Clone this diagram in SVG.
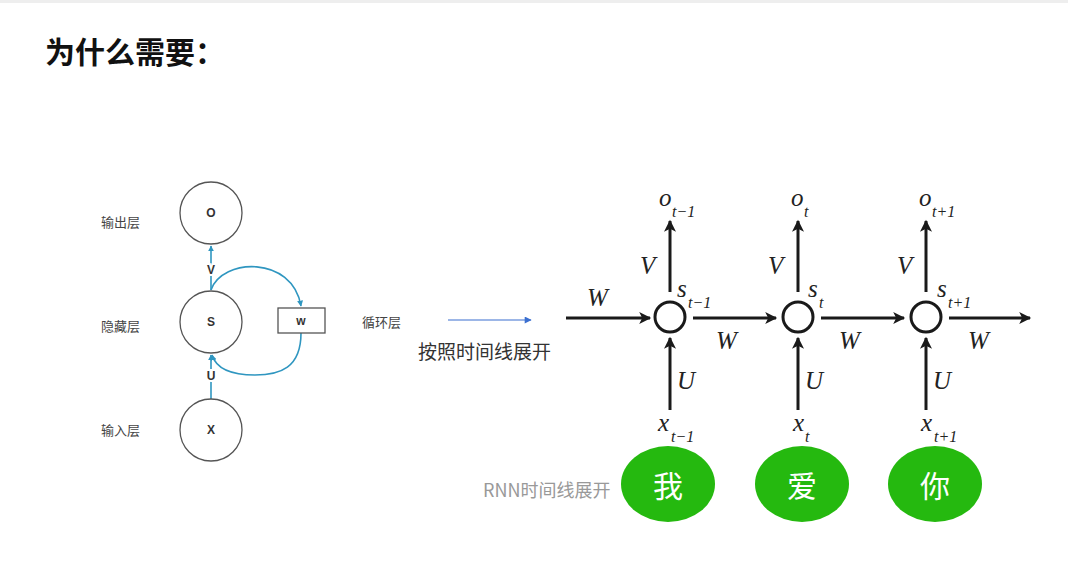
<svg xmlns="http://www.w3.org/2000/svg" width="1068" height="565" viewBox="0 0 1068 565">
<style>
.lbl{font-family:"Noto Sans CJK SC","Noto Sans",sans-serif;font-size:13px;fill:#444;}
.node{fill:#fff;stroke:#555;stroke-width:1.3;}
.nt{font-family:"Liberation Sans","Noto Sans",sans-serif;font-size:12px;font-weight:bold;fill:#333;text-anchor:middle;dominant-baseline:central;}
.blue{stroke:#2f96c0;stroke-width:1.6;fill:none;}
.ba{stroke:#1a1a1a;stroke-width:3;fill:none;}
.cell{fill:#fff;stroke:#1a1a1a;stroke-width:3;}
.m{font-family:"Liberation Serif","DejaVu Serif",serif;font-style:italic;font-size:25px;fill:#222;}
.sub{font-family:"Liberation Serif","DejaVu Serif",serif;font-style:italic;font-size:16px;fill:#222;}
.halo{paint-order:stroke;stroke:#fff;stroke-width:4;}
.word{fill:#25b90f;}
.wt{font-family:"Noto Sans CJK SC",sans-serif;font-size:30px;fill:#fff;text-anchor:middle;dominant-baseline:central;}
</style>
<defs>
<marker id="bh" viewBox="0 0 10 10" refX="9" refY="5" markerWidth="6" markerHeight="6" orient="auto" markerUnits="userSpaceOnUse"><path d="M0,0 L10,5 L0,10 z" fill="#2f96c0"/></marker>
<marker id="kh" viewBox="0 0 10 10" refX="9" refY="5" markerWidth="14" markerHeight="12" orient="auto" markerUnits="userSpaceOnUse"><path d="M0,0 L10,5 L0,10 L2.5,5 z" fill="#1a1a1a"/></marker>
<marker id="bb" viewBox="0 0 10 10" refX="9" refY="5" markerWidth="8" markerHeight="7" orient="auto" markerUnits="userSpaceOnUse"><path d="M0,0 L10,5 L0,10 z" fill="#3b6fd0"/></marker>
</defs>
<rect width="1068" height="565" fill="#fff"/>
<rect width="1068" height="3" fill="#eeeeee"/>
<text x="45" y="63" font-family="Noto Sans CJK SC,sans-serif" font-size="30" font-weight="bold" fill="#111">为什么需要：</text>

<g id="connectors">
<line class="blue" x1="211" y1="290" x2="211" y2="246" marker-end="url(#bh)"/>
<line class="blue" x1="211" y1="399" x2="211" y2="355" marker-end="url(#bh)"/>
<path class="blue" d="M211,290 C222,258 292,255 301,306" marker-end="url(#bh)"/>
<path class="blue" d="M301,333 C301,368 280,375 255,375 C230,375 216,368 212,355" marker-end="url(#bh)"/>
<line x1="448" y1="320" x2="531" y2="320" stroke="#3b6fd0" stroke-width="1.2" marker-end="url(#bb)"/>
<line class="ba" x1="566" y1="318" x2="650" y2="318" marker-end="url(#kh)"/>
<line class="ba" x1="693" y1="318" x2="776" y2="318" marker-end="url(#kh)"/>
<line class="ba" x1="821" y1="318" x2="904" y2="318" marker-end="url(#kh)"/>
<line class="ba" x1="949" y1="318" x2="1030" y2="318" marker-end="url(#kh)"/>
<line class="ba" x1="670" y1="292" x2="670" y2="221" marker-end="url(#kh)"/>
<line class="ba" x1="798" y1="292" x2="798" y2="221" marker-end="url(#kh)"/>
<line class="ba" x1="926" y1="292" x2="926" y2="221" marker-end="url(#kh)"/>
<line class="ba" x1="670" y1="410" x2="670" y2="338" marker-end="url(#kh)"/>
<line class="ba" x1="798" y1="410" x2="798" y2="338" marker-end="url(#kh)"/>
<line class="ba" x1="926" y1="410" x2="926" y2="338" marker-end="url(#kh)"/>
</g>

<g id="left-labels">
<text class="lbl" x="101" y="227">输出层</text>
<text class="lbl" x="101" y="331">隐藏层</text>
<text class="lbl" x="101" y="435">输入层</text>
<text class="lbl" x="362" y="327">循环层</text>
<text class="nt halo" x="211" y="270">V</text>
<text class="nt halo" x="211" y="376">U</text>
</g>
<g id="node-o"><circle class="node" cx="211" cy="213" r="31"/><text class="nt" x="211" y="213">O</text></g>
<g id="node-s"><circle class="node" cx="211" cy="322" r="31"/><text class="nt" x="211" y="322">S</text></g>
<g id="node-x"><circle class="node" cx="211" cy="430" r="31"/><text class="nt" x="211" y="430">X</text></g>
<g id="node-w"><rect class="node" x="278" y="308" width="47" height="25"/><text class="nt" x="301" y="321">w</text></g>

<text x="418" y="359" font-family="Noto Sans CJK SC,sans-serif" font-size="19" fill="#333">按照时间线展开</text>

<g id="rnn-labels">
<text class="m" x="587" y="306">W</text>
<text class="m" x="716" y="349">W</text>
<text class="m" x="839" y="349">W</text>
<text class="m" x="968" y="349">W</text>
<text class="m" x="640" y="274">V</text>
<text class="m" x="768" y="274">V</text>
<text class="m" x="897" y="274">V</text>
<text class="m" x="677" y="389">U</text>
<text class="m" x="805" y="389">U</text>
<text class="m" x="933" y="389">U</text>
<text class="m" x="659" y="206">o</text><text class="sub" x="672" y="217">t−1</text>
<text class="m" x="791" y="206">o</text><text class="sub" x="804" y="217">t</text>
<text class="m" x="919" y="206">o</text><text class="sub" x="932" y="217">t+1</text>
<text class="m" x="677" y="297">s</text><text class="sub" x="688" y="308">t−1</text>
<text class="m" x="808" y="297">s</text><text class="sub" x="819" y="308">t</text>
<text class="m" x="937" y="297">s</text><text class="sub" x="948" y="308">t+1</text>
<text class="m" x="658" y="431">x</text><text class="sub" x="671" y="442">t−1</text>
<text class="m" x="793" y="431">x</text><text class="sub" x="805" y="442">t</text>
<text class="m" x="921" y="431">x</text><text class="sub" x="934" y="442">t+1</text>
</g>
<g id="cell-1"><circle class="cell" cx="670" cy="317" r="15"/></g>
<g id="cell-2"><circle class="cell" cx="798" cy="317" r="15"/></g>
<g id="cell-3"><circle class="cell" cx="926" cy="317" r="15"/></g>

<text x="483" y="497" font-family="Noto Sans CJK SC,Noto Sans,sans-serif" font-size="18" fill="#999">RNN时间线展开</text>
<g id="word-1"><ellipse class="word" cx="668" cy="484" rx="47" ry="38"/><text class="wt" x="668" y="484">我</text></g>
<g id="word-2"><ellipse class="word" cx="802" cy="484" rx="47" ry="38"/><text class="wt" x="802" y="484">爱</text></g>
<g id="word-3"><ellipse class="word" cx="935" cy="484" rx="47" ry="38"/><text class="wt" x="935" y="484">你</text></g>
</svg>
